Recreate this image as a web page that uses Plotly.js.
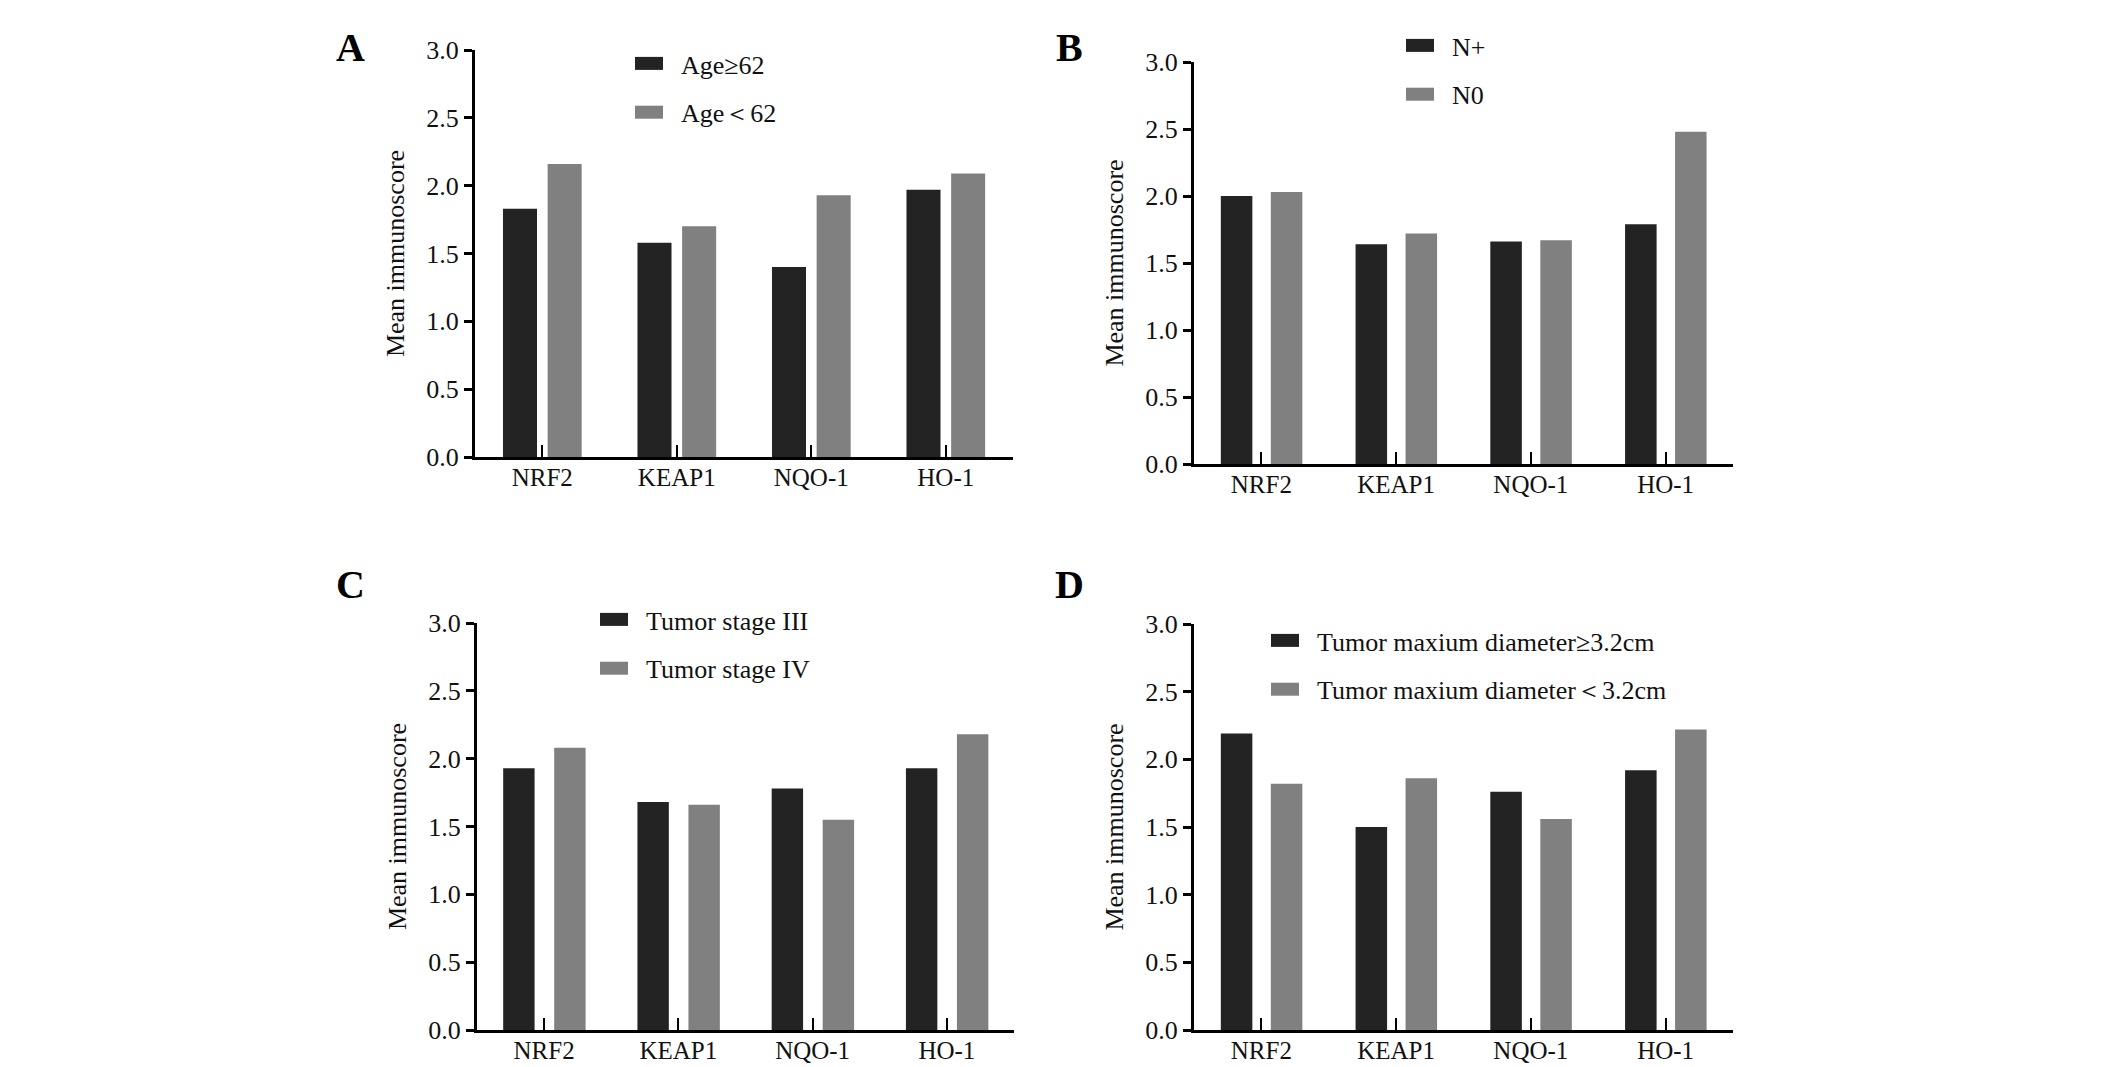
<!DOCTYPE html>
<html>
<head>
<meta charset="utf-8">
<script src="https://cdn.plot.ly/plotly-3.0.1.min.js"></script>
<style>html,body{margin:0;padding:0;background:#fff;}#chart{width:2126px;height:1067px;}</style>
</head>
<body>
<div id="chart"></div>
<script>
// ---- data ----
const categories = ['NRF2', 'KEAP1', 'NQO-1', 'HO-1'];
const yTickValues = [0, 0.5, 1.0, 1.5, 2.0, 2.5, 3.0];
const yTickLabels = ['0.0', '0.5', '1.0', '1.5', '2.0', '2.5', '3.0'];

const panelLabels = ['A', 'B', 'C', 'D'];
const seriesNames = [
  ['Age≥62', 'Age＜62'],
  ['N+', 'N0'],
  ['Tumor stage III', 'Tumor stage IV'],
  ['Tumor maxium diameter≥3.2cm', 'Tumor maxium diameter＜3.2cm']
];
const ageHigh = [1.83, 1.58, 1.40, 1.97];
const ageLow = [2.16, 1.70, 1.93, 2.09];
const nodePos = [2.00, 1.64, 1.66, 1.79];
const nodeNeg = [2.03, 1.72, 1.67, 2.48];
const stage3 = [1.93, 1.68, 1.78, 1.93];
const stage4 = [2.08, 1.66, 1.55, 2.18];
const diamHigh = [2.19, 1.50, 1.76, 1.92];
const diamLow = [1.82, 1.86, 1.56, 2.22];
const panelValues = [[ageHigh, ageLow], [nodePos, nodeNeg], [stage3, stage4], [diamHigh, diamLow]];

// ---- styles ----
const W = 2126, H = 1067;
const colors = ['#232323', '#808080'];
const FONT = 'Liberation Serif, Times New Roman, serif';
// pixel boxes of each panel's plot area [x0, x1, y0(top), y1(bottom)]
const boxes = [
  [475, 1013, 50, 457],
  [1194, 1733, 62, 464],
  [477, 1014, 623, 1030],
  [1194, 1733, 624, 1030]
];
// bar geometry per panel: width and offsets in category units
const barGeom = [
  {width: 0.253, offsets: [-0.292, 0.040]},
  {width: 0.234, offsets: [-0.301, 0.070]},
  {width: 0.234, offsets: [-0.305, 0.075]},
  {width: 0.234, offsets: [-0.301, 0.070]}
];
const letterPos = [[350, 47], [1069, 47], [350, 584], [1069, 584]];
// legend: [left px, top px]
const legendPos = [[615, 40], [1386, 22], [580, 596], [1251, 617]];
// legend swatch size (px) and horizontal shift per panel
const swatchStyle = [
  {w: 28, h: 13, dx: 1},
  {w: 36, h: 20, dx: 4},
  {w: 36, h: 20, dx: 7},
  {w: 35, h: 20, dx: 6}
];

const traces = [];
const layout = {
  width: W, height: H,
  margin: {l: 0, r: 0, t: 0, b: 0},
  paper_bgcolor: '#ffffff', plot_bgcolor: '#ffffff',
  barmode: 'overlay',
  showlegend: true,
  annotations: []
};

for (let p = 0; p < 4; p++) {
  const sfx = p === 0 ? '' : String(p + 1);
  const b = boxes[p];
  for (let s = 0; s < 2; s++) {
    traces.push({
      type: 'bar',
      x: categories,
      y: panelValues[p][s],
      name: seriesNames[p][s],
      xaxis: 'x' + sfx,
      yaxis: 'y' + sfx,
      legend: 'legend' + sfx,
      legendgroup: 'g' + p + '_' + s,
      width: barGeom[p].width,
      offset: barGeom[p].offsets[s],
      marker: {color: colors[s], line: {width: 0}},
      hoverinfo: 'x+y+name'
    });
  }
  layout['xaxis' + sfx] = {
    domain: [b[0] / W, b[1] / W],
    anchor: 'y' + sfx,
    type: 'category',
    range: [-0.5, 3.5],
    showline: true, linecolor: '#000', linewidth: 3,
    ticks: 'inside', ticklen: 12, tickwidth: 2, tickcolor: '#000',
    ticklabelstandoff: -4,
    showgrid: false, zeroline: false,
    tickfont: {family: FONT, size: 25, color: '#111'},
    fixedrange: true
  };
  layout['yaxis' + sfx] = {
    domain: [1 - b[3] / H, 1 - b[2] / H],
    anchor: 'x' + sfx,
    range: [0, 3],
    tickvals: yTickValues, ticktext: yTickLabels,
    showline: true, linecolor: '#000', linewidth: 3,
    ticks: 'outside', ticklen: 8, tickwidth: 3, tickcolor: '#000',
    showgrid: false, zeroline: false,
    tickfont: {family: FONT, size: 26, color: '#111'},
    title: {text: 'Mean immunoscore', font: {family: FONT, size: 26, color: '#111'}, standoff: 15},
    fixedrange: true
  };
  layout['legend' + sfx] = {
    x: legendPos[p][0] / W, y: 1 - legendPos[p][1] / H,
    xanchor: 'left', yanchor: 'top',
    bgcolor: 'rgba(0,0,0,0)', borderwidth: 0,
    font: {family: FONT, size: 26, color: '#111'},
    itemwidth: 56,
    traceorder: 'grouped', tracegroupgap: 12,
    itemclick: false, itemdoubleclick: false
  };
  layout.annotations.push({
    text: '<b>' + panelLabels[p] + '</b>',
    xref: 'paper', yref: 'paper',
    x: letterPos[p][0] / W, y: 1 - letterPos[p][1] / H,
    xanchor: 'center', yanchor: 'middle', showarrow: false,
    font: {family: FONT, size: 40, color: '#000'}
  });
}

// enlarge the legend swatches to the rectangular keys of the original figure
function panelOfName(name) {
  for (let i = 0; i < 4; i++) if (seriesNames[i].indexOf(name) >= 0) return i;
  return -1;
}
function styleSwatches(gd) {
  gd.querySelectorAll('.legendpoints path').forEach(function (path) {
    let item = path.parentNode;
    while (item && item !== gd && !(item.querySelector && item.querySelector('text.legendtext'))) item = item.parentNode;
    if (!item || item === gd) return;
    const txt = item.querySelector('text.legendtext');
    const p = panelOfName(txt.textContent);
    if (p < 0) return;
    if (path.getAttribute('data-swatch') === '1') return;
    const st = swatchStyle[p];
    const orig = path.getAttribute('transform') || '';
    path.setAttribute('transform', orig + ' translate(' + st.dx + ',0) scale(' + (st.w / 12) + ',' + (st.h / 12) + ')');
    path.setAttribute('data-swatch', '1');
  });
}

const gd = document.getElementById('chart');
const obs = new MutationObserver(function () { styleSwatches(gd); });
obs.observe(gd, {childList: true, subtree: true});
Plotly.newPlot(gd, traces, layout, {displayModeBar: false}).then(function () {
  styleSwatches(gd);
  gd.on('plotly_afterplot', function () { styleSwatches(gd); });
  setTimeout(function () { styleSwatches(gd); }, 50);
  setTimeout(function () { styleSwatches(gd); }, 300);
});
</script>
</body>
</html>
